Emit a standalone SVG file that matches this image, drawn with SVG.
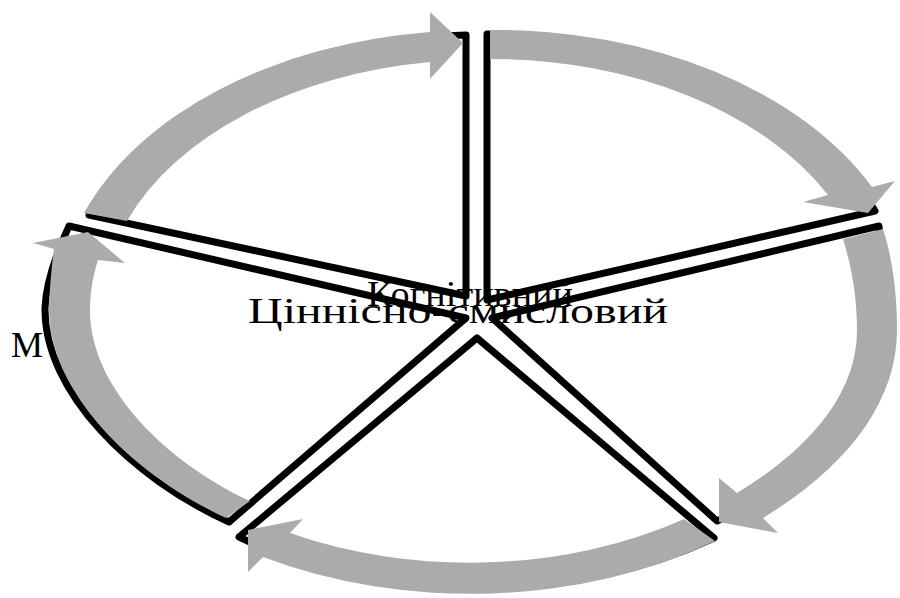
<svg xmlns="http://www.w3.org/2000/svg" width="900" height="598" viewBox="0 0 900 598">
<style>
.sec{fill:#fff;stroke:#000;stroke-width:7;stroke-linejoin:round}
.arr{fill:#ababab;stroke:none}
.lbl{font-family:"Liberation Serif","Times New Roman",serif;font-size:36px;fill:#000}
</style>
<rect width="900" height="598" fill="#fff"/>
<text class="lbl" x="11" y="357" textLength="32" lengthAdjust="spacingAndGlyphs">М</text>
<g id="sectors">
<g id="sector-tl"><path class="sec" d="M466,296 L89,215 A415,280 0 0 1 466,35 Z"/></g>
<g id="sector-tr"><path class="sec" d="M487,300 L487,34 A415,280 0 0 1 875,211 Z"/></g>
<g id="sector-r"><path class="sec" d="M492,318 L879,226 C881,255 882,290 882,330 C882,410 808,480 717,521 Z"/></g>
<g id="sector-b"><path class="sec" d="M477,338 L714,538 A415,280 0 0 1 239,537 Z"/></g>
<g id="sector-l"><path class="sec" d="M466,318 L229,522 C132,478 44,392 45,308 C46,282 57,252 69,226 Z"/></g>
</g>
<g id="connectors">
<path class="arr" d="M84,213 A420,282 0 0 1 430,32 L430,12 L463,43 L430,79 L430,62 A380,250 0 0 0 127,221 Z"/>
<path class="arr" d="M490,30 A420,282 0 0 1 872,187 L895,181 L868,213 L803,202 L828,195 A380,250 0 0 0 490,59 Z"/>
<path class="arr" d="M883,229 C893,260 897,295 897,330 C897,400 850,465 763,518 L778,533 L719,522 L719,478 L737,493 C800,455 857,400 857,330 C857,295 851,265 843,239 Z"/>
<path class="arr" d="M715,541 A420,282 0 0 1 263,557 L248,572 L248,530 L303,519 L290,533 A380,250 0 0 0 684,519 Z"/>
<path class="arr" d="M226,518 C130,473 49,391 49,308 C50,283 52,264 54,249 L33,243 L88,232 L125,263 L98,260 C93,276 90,292 90,310 C90,390 170,464 250,501 Z"/>
</g>
<g id="labels">
<text class="lbl" x="367" y="306" textLength="206" lengthAdjust="spacingAndGlyphs">Когнітивний</text>
<text class="lbl" x="248" y="323" textLength="420" lengthAdjust="spacingAndGlyphs">Ціннісно-смисловий</text>
</g>
</svg>
